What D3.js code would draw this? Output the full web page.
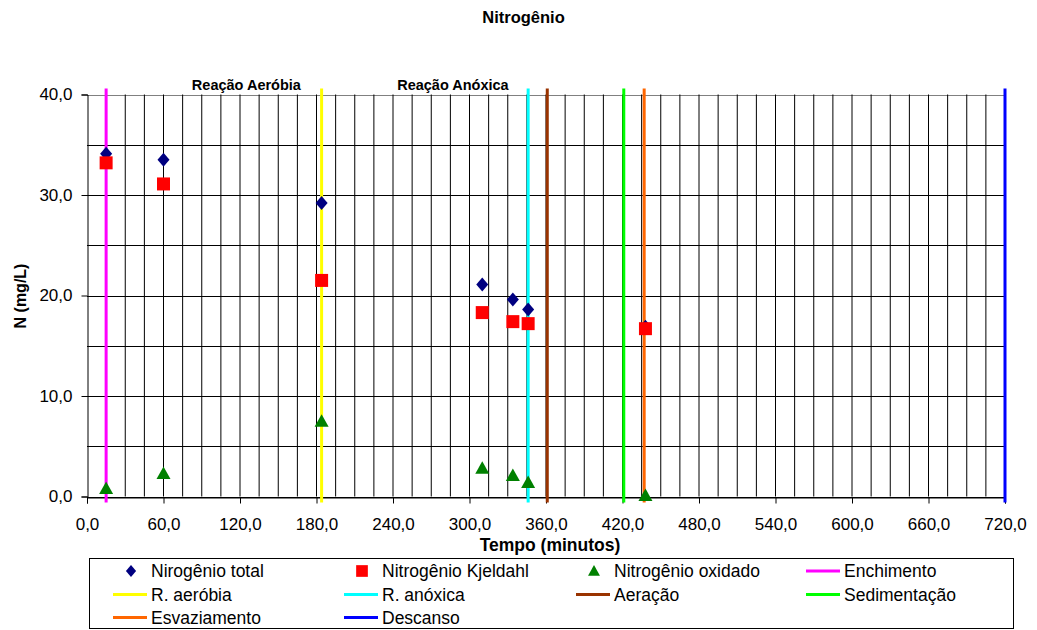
<!DOCTYPE html>
<html><head><meta charset="utf-8">
<script src="https://cdn.jsdelivr.net/npm/d3@7"></script>
<style>body{margin:0;background:#fff;font-family:"Liberation Sans",Arial,sans-serif;}</style>
</head><body>
<svg id="c" width="1037" height="630"></svg>
<script>
// ---- data ----
const times = [15, 60, 184, 310, 334, 346, 438];
const nTotal = [34.1, 33.5, 29.2, 21.1, 19.6, 18.6, 16.9];
const nKjeldahl = [33.2, 31.1, 21.5, 18.3, 17.4, 17.2, 16.7];
const nOxidado = [0.8, 2.3, 7.5, 2.8, 2.1, 1.4, 0.1];
const phaseNames = ["Enchimento", "R. aeróbia", "R. anóxica", "Aeração", "Sedimentação", "Esvaziamento", "Descanso"];
const phaseTimes = [15, 184, 346, 361, 421, 437, 720];
const phaseColors = ["#FF00FF", "#FFFF00", "#00FFFF", "#993300", "#00FF00", "#FF6600", "#0000FF"];
const xTicks = [0, 60, 120, 180, 240, 300, 360, 420, 480, 540, 600, 660, 720];
const yTicks = [0, 10, 20, 30, 40];
const annotations = [{text: "Reação Aeróbia", t: 125}, {text: "Reação Anóxica", t: 287}];

const svg = d3.select("#c");
const x = d3.scaleLinear().domain([0, 720]).range([87, 1005]);
const y = d3.scaleLinear().domain([0, 40]).range([496.5, 94.5]);
const fmt = v => d3.format(".1f")(v).replace(".", ",");

// title
svg.append("text").attr("x", 523.5).attr("y", 23).attr("text-anchor", "middle")
  .attr("font-size", 16.5).attr("font-weight", "bold").text("Nitrogênio");

// grid
const g = svg.append("g");
g.selectAll(".hg").data(d3.range(0, 41, 5)).enter().append("line")
  .attr("x1", x(0)).attr("x2", x(720)).attr("y1", d => Math.round(y(d)) + 0.5).attr("y2", d => Math.round(y(d)) + 0.5)
  .attr("stroke", d => d === 40 ? "#808080" : "#000").attr("stroke-width", 1);
g.selectAll(".vg").data(d3.range(15, 720, 15)).enter().append("line")
  .attr("x1", d => x(d)).attr("x2", d => x(d)).attr("y1", y(40)).attr("y2", y(0))
  .attr("stroke", "#000").attr("stroke-width", 1);

// axes
const xa = svg.append("g").attr("transform", `translate(0,${Math.round(y(0)) + 0.5})`)
  .call(d3.axisBottom(x).tickValues(xTicks).tickFormat(fmt).tickSize(6).tickPadding(14));
const ya = svg.append("g").attr("transform", `translate(${Math.round(x(0)) + 0.5},0)`)
  .call(d3.axisLeft(y).tickValues(yTicks).tickFormat(fmt).tickSize(6).tickPadding(9));
[xa, ya].forEach(a => {
  a.select(".domain").attr("stroke", "#000");
  a.selectAll("line").attr("stroke", "#000");
  a.selectAll("text").attr("font-size", 17).attr("fill", "#000").attr("font-family", "Liberation Sans, Arial, sans-serif");
});

// phase lines
svg.selectAll(".ph").data(phaseTimes).enter().append("line")
  .attr("x1", d => x(d)).attr("x2", d => x(d)).attr("y1", y(40.6)).attr("y2", y(-0.6))
  .attr("stroke", (d, i) => phaseColors[i]).attr("stroke-width", 3);

// annotations
svg.selectAll(".ann").data(annotations).enter().append("text")
  .attr("x", d => x(d.t)).attr("y", 90).attr("text-anchor", "middle")
  .attr("font-size", 14.5).attr("font-weight", "bold").text(d => d.text);

// axis titles
svg.append("text").attr("x", 550).attr("y", 551).attr("text-anchor", "middle")
  .attr("font-size", 17.5).attr("font-weight", "bold").text("Tempo (minutos)");
svg.append("text").attr("transform", `translate(26,296) rotate(-90)`).attr("text-anchor", "middle")
  .attr("font-size", 16).attr("font-weight", "bold").text("N (mg/L)");

// markers
const diamond = "M0,-7L6,0L0,7L-6,0Z";
const square = "M-6.5,-6.5H6.5V6.5H-6.5Z";
const tri = "M0,-7L7,5.5H-7Z";
const idx = d3.range(times.length);
svg.selectAll(".tot").data(idx).enter().append("path").attr("d", diamond)
  .attr("transform", i => `translate(${x(times[i])},${y(nTotal[i])})`).attr("fill", "#000080");
svg.selectAll(".kj").data(idx).enter().append("path").attr("d", square)
  .attr("transform", i => `translate(${x(times[i])},${y(nKjeldahl[i])})`).attr("fill", "#FF0000");
svg.selectAll(".ox").data(idx).enter().append("path").attr("d", tri)
  .attr("transform", i => `translate(${x(times[i])},${y(nOxidado[i])})`).attr("fill", "#008000");

// legend
const lg = svg.append("g");
lg.append("rect").attr("x", 89.5).attr("y", 558.5).attr("width", 924).attr("height", 70)
  .attr("fill", "#fff").attr("stroke", "#000").attr("stroke-width", 1);
const colX = [113, 344, 576, 806];
const rowY = [571, 594.5, 617.5];
const items = [
  {name: "Nirogênio total", type: "m", d: diamond, c: "#000080", s: 0.85},
  {name: "Nitrogênio Kjeldahl", type: "m", d: square, c: "#FF0000", s: 0.9},
  {name: "Nitrogênio oxidado", type: "m", d: tri, c: "#008000", s: 0.85}
].concat(phaseNames.map((n, i) => ({name: n, type: "l", c: phaseColors[i]})));
items.forEach((it, k) => {
  const cx = colX[k % 4], cy = rowY[Math.floor(k / 4)];
  if (it.type === "m") {
    lg.append("path").attr("d", it.d).attr("fill", it.c)
      .attr("transform", `translate(${cx + 18},${cy}) scale(${it.s})`);
  } else {
    lg.append("line").attr("x1", cx).attr("x2", cx + 34).attr("y1", cy).attr("y2", cy)
      .attr("stroke", it.c).attr("stroke-width", 3);
  }
  lg.append("text").attr("x", cx + 38).attr("y", cy + 6)
    .attr("font-size", 17.5).text(it.name);
});
</script>
</body></html>
